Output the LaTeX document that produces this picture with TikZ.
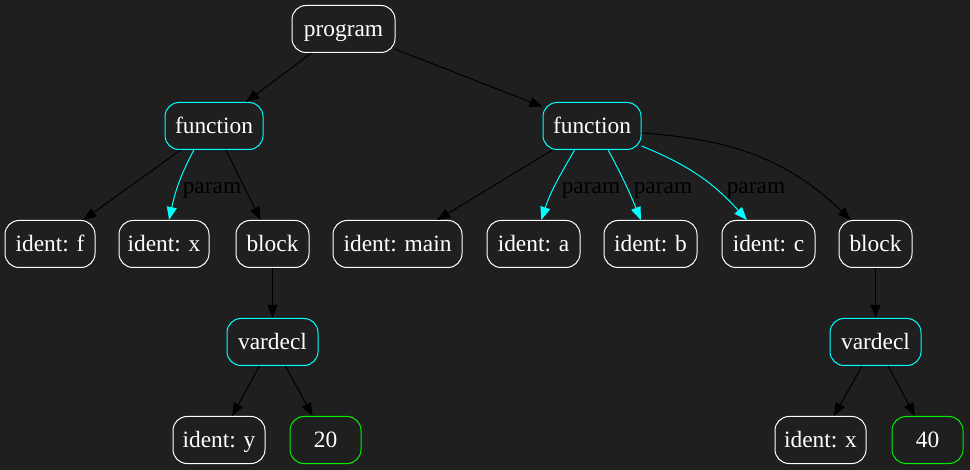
\documentclass[tikz,border=0pt]{standalone}
\usepackage{fontspec}
\setmainfont{Liberation Serif}
\usetikzlibrary{arrows.meta}
\definecolor{bgc}{HTML}{1F1F1F}
\definecolor{cyn}{HTML}{00FFFF}
\definecolor{grn}{HTML}{00F000}
\begin{document}
\begin{tikzpicture}[x=1pt,y=1pt,
  every node/.style={font=\fontsize{23.4}{27}\selectfont, text height=20pt, text depth=4pt},
  box/.style={draw=white, text=white, rounded corners=14pt, line width=1pt,
    minimum height=47pt, inner sep=0pt},
  cbox/.style={box, draw=cyn},
  gbox/.style={box, draw=grn},
  edge/.style={draw=black, line width=1pt, -{Triangle[length=13pt,width=10pt]}},
  pedge/.style={edge, draw=cyn},
  lab/.style={text=black, inner sep=0pt}]
\fill[bgc] (0,0) rectangle (970,-470);
\useasboundingbox (0,0) rectangle (970,-470);
% nodes
\node[box, minimum width=103pt] (prog) at (343.5,-29) {program};
\node[cbox, minimum width=98pt] (fL) at (214,-126) {function};
\node[cbox, minimum width=98pt] (fR) at (592,-126) {function};
\node[box, minimum width=90pt] (idf) at (50,-244) {ident: f};
\node[box, minimum width=90pt] (idx) at (164,-244) {ident: x};
\node[box, minimum width=73pt] (blkL) at (272.5,-244) {block};
\node[box, minimum width=129pt] (idmain) at (397.5,-244) {ident: main};
\node[box, minimum width=93pt] (ida) at (533.5,-244) {ident: a};
\node[box, minimum width=93pt] (idb) at (650.5,-244) {ident: b};
\node[box, minimum width=93pt] (idc) at (768.5,-244) {ident: c};
\node[box, minimum width=73pt] (blkR) at (875.5,-244) {block};
\node[cbox, minimum width=91pt] (vdL) at (272.5,-342) {vardecl};
\node[cbox, minimum width=91pt] (vdR) at (875.5,-342) {vardecl};
\node[box, minimum width=92pt] (idy) at (219,-440) {ident: y};
\node[gbox, minimum width=71pt] (n20) at (325.5,-440) {20};
\node[box, minimum width=91pt] (idx2) at (820.5,-440) {ident: x};
\node[gbox, minimum width=71pt] (n40) at (927.5,-440) {40};
% edges
\draw[edge] (prog) -- (fL);
\draw[edge] (prog) -- (fR);
\draw[edge] (fL) -- (idf);
\draw[pedge] (fL.-130) to[out=-118,in=78] (idx);
\draw[edge] (fL) -- (blkL);
\draw[edge] (blkL) -- (vdL);
\draw[edge] (vdL) -- (idy);
\draw[edge] (vdL) -- (n20);
\draw[edge] (fR) -- (idmain);
\draw[pedge] (fR.-126) to[out=-120,in=72] (ida);
\draw[pedge] (fR.-56) to[out=-62,in=112] (idb);
\draw[pedge] (fR.-22) to[out=-22,in=132] (idc);
\draw[edge] (fR.-8) to[out=-4,in=136] (blkR);
\draw[edge] (blkR) -- (vdR);
\draw[edge] (vdR) -- (idx2);
\draw[edge] (vdR) -- (n40);
% labels
\node[lab] (l1) at (212,-186) {param};
\node[lab] (l2) at (591,-186) {param};
\node[lab] (l3) at (663,-186) {param};
\node[lab] (l4) at (756,-186) {param};
\end{tikzpicture}
\end{document}
